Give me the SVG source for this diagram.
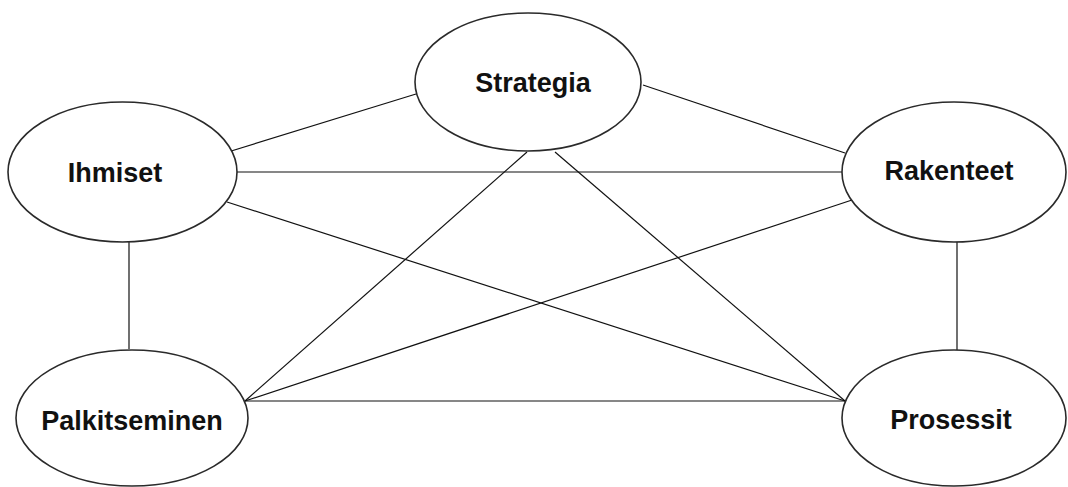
<svg xmlns="http://www.w3.org/2000/svg" width="1068" height="487" viewBox="0 0 1068 487">
<style>
.node ellipse{fill:#fff;stroke:#2a2a2a;stroke-width:1.6}
.node text{font-family:"Liberation Sans",Arial,sans-serif;font-weight:bold;font-size:27px;fill:#111;text-anchor:middle}
.edges line{stroke:#111;stroke-width:1.2}
</style>
<rect width="1068" height="487" fill="#fff"/>
<g id="connectors" class="edges">
<line x1="228" y1="152" x2="416" y2="94"/>
<line x1="237" y1="172" x2="842" y2="172"/>
<line x1="227" y1="202" x2="845" y2="401"/>
<line x1="129" y1="242" x2="129" y2="349"/>
<line x1="643" y1="85" x2="845" y2="153"/>
<line x1="527" y1="152" x2="245" y2="401"/>
<line x1="555" y1="152" x2="845" y2="401"/>
<line x1="852" y1="200" x2="245" y2="401"/>
<line x1="957" y1="242" x2="957" y2="350"/>
<line x1="245" y1="401" x2="845" y2="401"/>
</g>
<g id="strategia" class="node">
<ellipse cx="528" cy="82" rx="113" ry="69"/>
<text x="533" y="92">Strategia</text>
</g>
<g id="ihmiset" class="node">
<ellipse cx="122.5" cy="172" rx="114.5" ry="70"/>
<text x="115" y="182">Ihmiset</text>
</g>
<g id="rakenteet" class="node">
<ellipse cx="954" cy="172" rx="112" ry="70"/>
<text x="949" y="180">Rakenteet</text>
</g>
<g id="palkitseminen" class="node">
<ellipse cx="132" cy="418" rx="116" ry="68"/>
<text x="132" y="430">Palkitseminen</text>
</g>
<g id="prosessit" class="node">
<ellipse cx="954" cy="418" rx="112" ry="68"/>
<text x="951" y="429">Prosessit</text>
</g>
</svg>
